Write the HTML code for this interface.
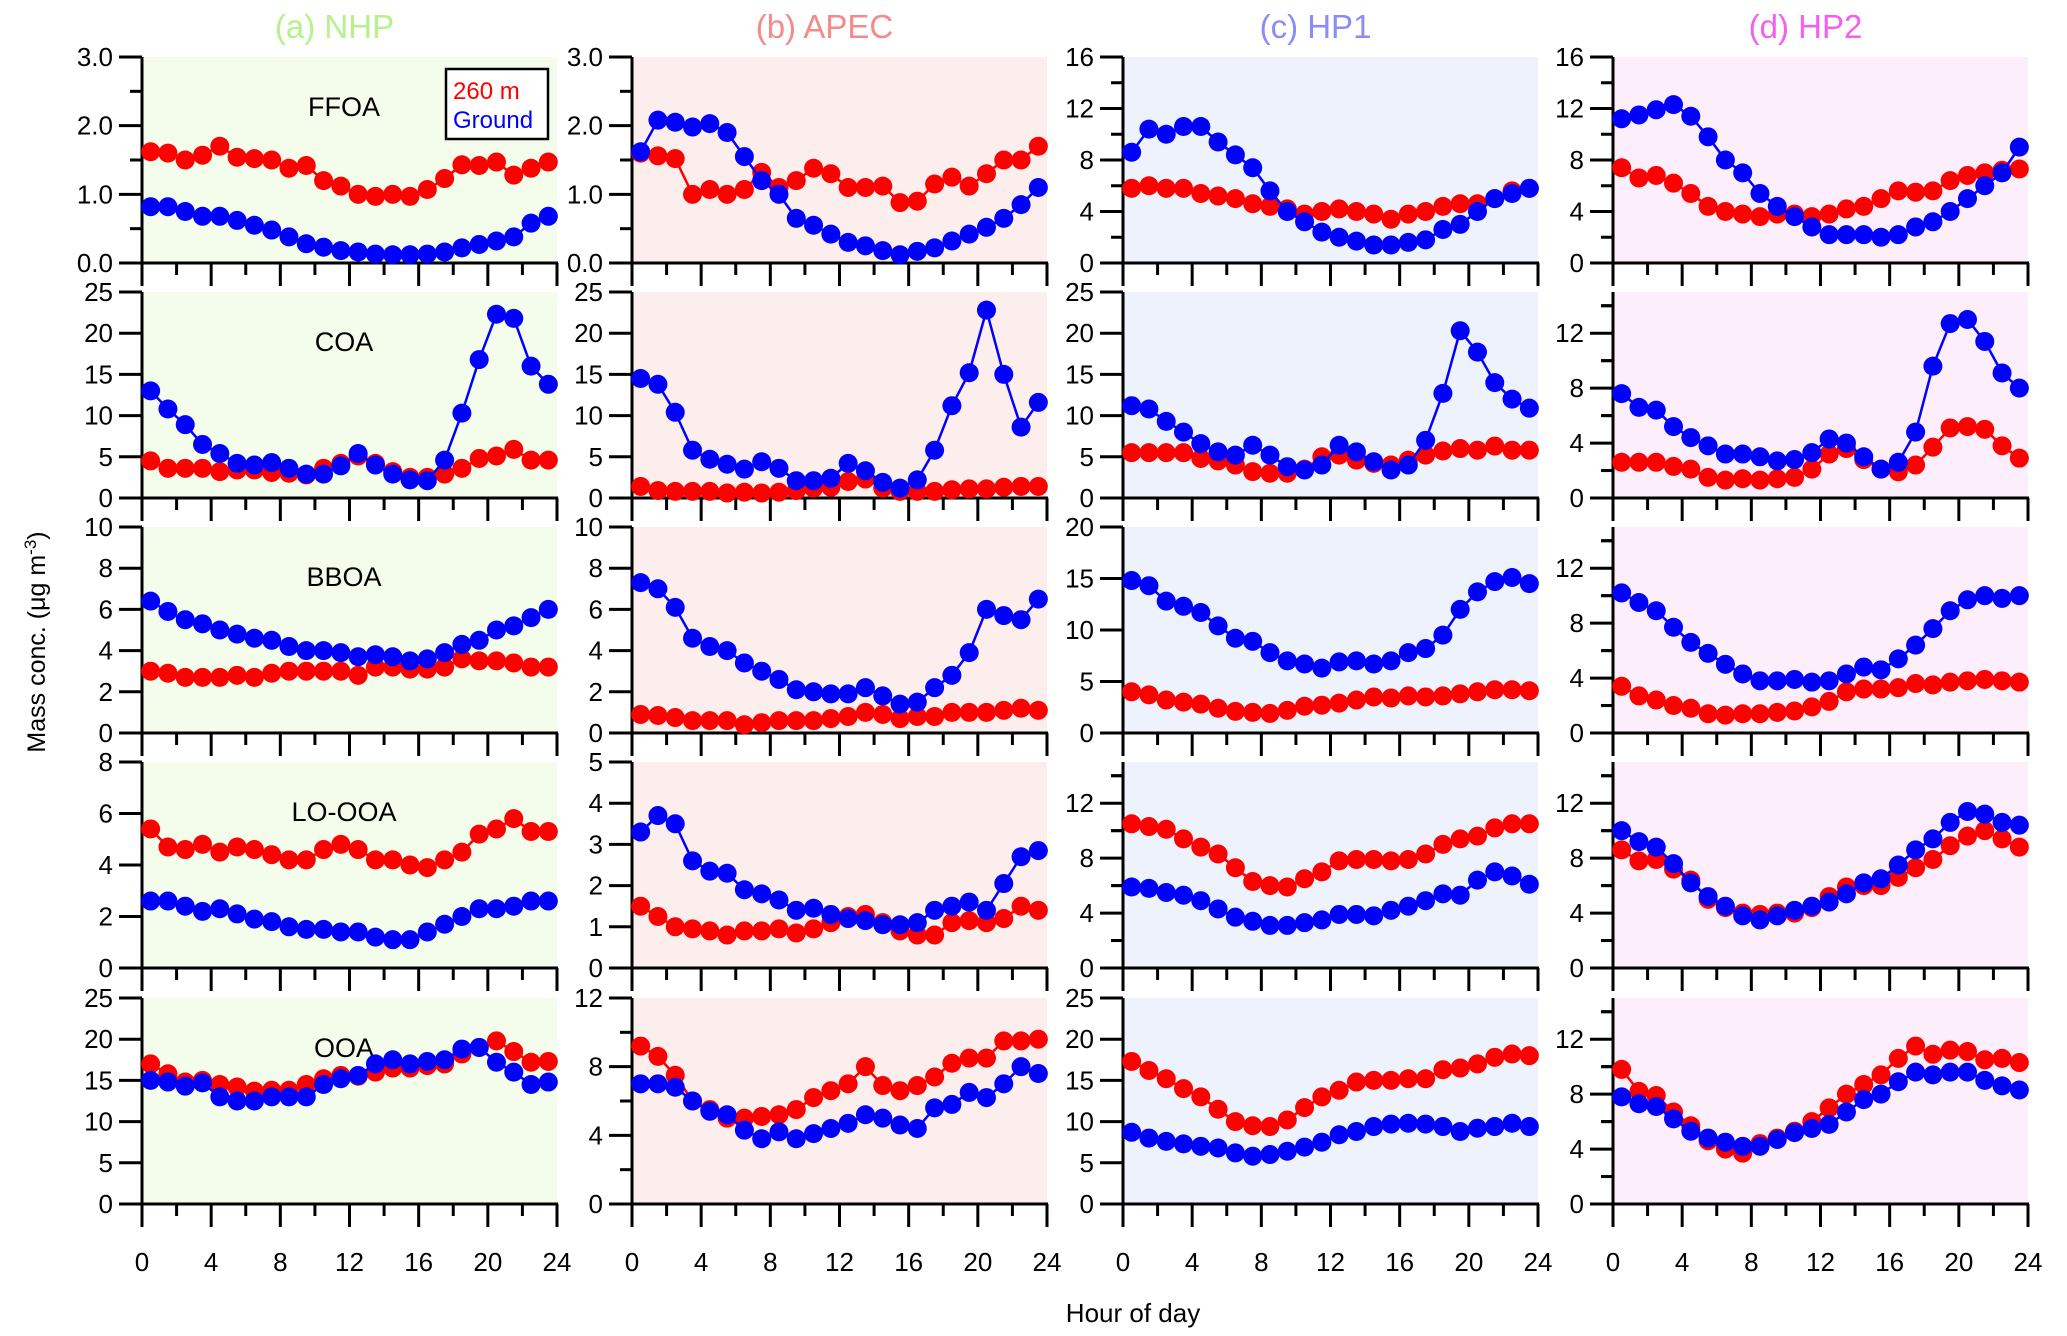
<!DOCTYPE html>
<html><head><meta charset="utf-8"><style>
html,body{margin:0;padding:0;background:#fff;}
svg{display:block;font-family:"Liberation Sans",Arial,sans-serif;}
</style></head><body>
<svg id="chart" width="2067" height="1336" viewBox="0 0 2067 1336" xmlns="http://www.w3.org/2000/svg"></svg>
<script>
const hours = [0.5,1.5,2.5,3.5,4.5,5.5,6.5,7.5,8.5,9.5,10.5,11.5,12.5,13.5,14.5,15.5,16.5,17.5,18.5,19.5,20.5,21.5,22.5,23.5];
const xTicks = [0,4,8,12,16,20,24];
const sites = ["(a) NHP","(b) APEC","(c) HP1","(d) HP2"];
const siteColors = ["#b5f28c","#f58a8a","#8c8cf5","#f55ff0"];
const bgColors = ["#f4fdeb","#fdeeee","#eef2fd","#fdeefb"];
const factors = ["FFOA","COA","BBOA","LO-OOA","OOA"];

// (a) NHP
const nhpFfoa260 = [1.62,1.6,1.5,1.57,1.7,1.54,1.52,1.5,1.38,1.42,1.2,1.12,1.0,0.97,1.0,0.97,1.07,1.23,1.43,1.42,1.47,1.28,1.38,1.47];
const nhpFfoaGround = [0.82,0.82,0.75,0.68,0.68,0.62,0.55,0.48,0.38,0.28,0.23,0.18,0.16,0.13,0.12,0.12,0.13,0.16,0.22,0.27,0.32,0.38,0.58,0.68];
const nhpCoa260 = [4.5,3.6,3.6,3.6,3.2,3.4,3.4,3.1,3.0,2.8,3.6,4.2,5.1,4.2,3.2,2.5,2.5,2.9,3.6,4.8,5.1,5.9,4.6,4.6];
const nhpCoaGround = [13,10.8,8.9,6.5,5.4,4.2,4.0,4.3,3.6,2.9,2.9,3.9,5.4,4.0,2.9,2.2,2.1,4.6,10.3,16.8,22.3,21.8,16.0,13.8];
const nhpBboa260 = [3.0,2.9,2.7,2.7,2.7,2.8,2.7,2.9,3.0,3.0,3.0,3.0,2.8,3.2,3.2,3.1,3.1,3.2,3.6,3.5,3.5,3.4,3.2,3.2];
const nhpBboaGround = [6.4,5.9,5.5,5.3,5.0,4.8,4.6,4.5,4.2,4.0,4.0,3.9,3.7,3.8,3.7,3.5,3.6,3.9,4.3,4.5,5.0,5.2,5.6,6.0];
const nhpLoooa260 = [5.4,4.7,4.6,4.8,4.5,4.7,4.6,4.4,4.2,4.2,4.6,4.8,4.6,4.2,4.2,4.0,3.9,4.2,4.5,5.2,5.4,5.8,5.3,5.3];
const nhpLoooaGround = [2.6,2.6,2.4,2.2,2.3,2.1,1.9,1.8,1.6,1.5,1.5,1.4,1.4,1.2,1.1,1.1,1.4,1.7,2.0,2.3,2.3,2.4,2.6,2.6];
const nhpOoa260 = [17,15.8,14.8,15,14.5,14.2,13.7,13.8,13.8,14.5,15.2,15.6,15.5,16,16.5,16.5,16.8,17,18.2,19,19.8,18.5,17.2,17.3];
const nhpOoaGround = [15,14.8,14.3,14.7,13,12.5,12.5,13,13,13,14.5,15.2,15.6,17,17.5,17,17.3,17.5,18.8,19,17.2,16,14.5,14.8];
// (b) APEC
const apecFfoa260 = [1.6,1.56,1.52,1.0,1.07,1.0,1.07,1.32,1.1,1.2,1.38,1.3,1.1,1.1,1.12,0.88,0.9,1.15,1.25,1.12,1.3,1.5,1.5,1.7];
const apecFfoaGround = [1.62,2.08,2.05,1.98,2.03,1.9,1.55,1.2,1.0,0.65,0.55,0.42,0.3,0.25,0.18,0.12,0.17,0.22,0.32,0.42,0.52,0.65,0.85,1.1];
const apecCoa260 = [1.4,0.9,0.8,0.8,0.8,0.6,0.7,0.6,0.7,0.9,1.2,1.3,2.0,2.3,1.2,0.8,0.8,0.8,1.0,1.1,1.1,1.3,1.4,1.4];
const apecCoaGround = [14.5,13.8,10.4,5.8,4.7,4.1,3.5,4.4,3.6,2.1,2.1,2.4,4.2,3.3,1.9,1.2,2.2,5.8,11.2,15.2,22.8,15.0,8.6,11.6];
const apecBboa260 = [0.9,0.85,0.75,0.6,0.6,0.6,0.4,0.5,0.6,0.6,0.6,0.7,0.8,1.0,0.9,0.7,0.8,0.8,1.0,1.0,1.0,1.1,1.2,1.1];
const apecBboaGround = [7.3,7.0,6.1,4.6,4.2,4.0,3.4,3.0,2.6,2.1,2.0,1.9,1.9,2.2,1.8,1.4,1.5,2.2,2.8,3.9,6.0,5.7,5.5,6.5];
const apecLoooa260 = [1.5,1.25,1.0,0.95,0.9,0.8,0.9,0.9,0.95,0.85,0.95,1.1,1.25,1.3,1.1,0.9,0.8,0.8,1.1,1.15,1.1,1.2,1.5,1.4];
const apecLoooaGround = [3.3,3.7,3.5,2.6,2.35,2.3,1.9,1.8,1.65,1.4,1.45,1.3,1.2,1.15,1.05,1.05,1.1,1.4,1.5,1.6,1.4,2.05,2.7,2.85];
const apecOoa260 = [9.2,8.6,7.5,6.0,5.5,5.0,5.0,5.1,5.2,5.5,6.2,6.6,7.0,8.0,6.9,6.6,6.9,7.4,8.2,8.5,8.5,9.5,9.5,9.6];
const apecOoaGround = [7.0,7.0,6.8,6.0,5.4,5.2,4.3,3.8,4.2,3.8,4.1,4.4,4.7,5.2,5.0,4.6,4.4,5.6,5.8,6.5,6.2,7.0,8.0,7.6];
// (c) HP1
const hp1Ffoa260 = [5.8,6.0,5.8,5.8,5.4,5.2,5.0,4.6,4.4,4.2,3.8,4.0,4.2,4.0,3.8,3.4,3.8,4.0,4.4,4.6,4.6,5.0,5.6,5.8];
const hp1FfoaGround = [8.6,10.4,10.0,10.6,10.6,9.4,8.4,7.4,5.6,4.0,3.2,2.4,2.0,1.7,1.4,1.4,1.6,1.8,2.6,3.0,4.0,5.0,5.4,5.8];
const hp1Coa260 = [5.5,5.5,5.5,5.5,4.8,4.5,4.0,3.2,3.0,3.0,3.5,5.0,5.2,4.6,4.2,4.0,4.6,5.2,5.7,6.0,5.8,6.3,5.8,5.8];
const hp1CoaGround = [11.2,10.8,9.3,8.0,6.6,5.6,5.2,6.4,5.2,3.8,3.4,4.0,6.4,5.6,4.4,3.4,4.0,7.0,12.7,20.3,17.7,14.0,12.0,10.9];
const hp1Bboa260 = [4.0,3.7,3.2,3.0,2.8,2.4,2.1,2.0,1.9,2.2,2.6,2.7,2.9,3.2,3.5,3.4,3.6,3.5,3.6,3.8,4.0,4.2,4.2,4.1];
const hp1BboaGround = [14.8,14.3,12.8,12.3,11.7,10.4,9.2,8.9,7.8,7.0,6.7,6.3,6.9,7.0,6.7,7.0,7.8,8.2,9.5,12.0,13.7,14.7,15.1,14.5];
const hp1Loooa260 = [10.5,10.3,10.1,9.4,8.8,8.3,7.3,6.3,6.0,5.9,6.5,7.0,7.8,7.9,7.9,7.8,7.9,8.3,9.0,9.4,9.6,10.2,10.5,10.5];
const hp1LoooaGround = [5.9,5.8,5.5,5.3,4.9,4.3,3.7,3.4,3.1,3.1,3.3,3.5,3.9,3.9,3.8,4.2,4.5,4.9,5.4,5.3,6.4,7.0,6.7,6.1];
const hp1Ooa260 = [17.3,16.2,15.2,14.0,13.0,11.5,10.0,9.5,9.4,10.2,11.7,13.0,13.8,14.8,15.0,15.0,15.2,15.2,16.3,16.5,17.0,17.8,18.2,18.0];
const hp1OoaGround = [8.7,8.0,7.6,7.3,7.0,6.8,6.2,5.8,6.0,6.4,6.9,7.5,8.4,8.8,9.4,9.7,9.8,9.7,9.4,8.8,9.2,9.4,9.8,9.4];
// (d) HP2
const hp2Ffoa260 = [7.4,6.6,6.8,6.2,5.4,4.4,4.0,3.8,3.6,3.8,3.8,3.6,3.8,4.2,4.4,5.0,5.6,5.5,5.6,6.4,6.8,7.0,7.2,7.3];
const hp2FfoaGround = [11.2,11.5,11.9,12.3,11.4,9.8,8.0,7.0,5.4,4.4,3.6,2.8,2.2,2.2,2.2,2.0,2.2,2.8,3.2,4.0,5.0,6.0,7.0,9.0];
const hp2Coa260 = [2.6,2.6,2.6,2.3,2.1,1.5,1.3,1.4,1.3,1.4,1.5,2.1,3.2,3.6,2.8,2.1,1.9,2.4,3.7,5.1,5.2,5.0,3.8,2.9];
const hp2CoaGround = [7.6,6.6,6.4,5.2,4.4,3.8,3.2,3.2,3.0,2.7,2.8,3.3,4.3,4.0,3.0,2.1,2.6,4.8,9.6,12.7,13.0,11.4,9.1,8.0];
const hp2Bboa260 = [3.4,2.7,2.4,2.0,1.8,1.4,1.3,1.4,1.4,1.5,1.6,1.9,2.3,3.0,3.2,3.2,3.3,3.6,3.5,3.7,3.8,3.9,3.8,3.7];
const hp2BboaGround = [10.2,9.5,8.9,7.7,6.6,5.8,5.0,4.3,3.8,3.8,3.9,3.7,3.8,4.3,4.8,4.6,5.4,6.4,7.6,8.9,9.7,10.0,9.8,10.0];
const hp2Loooa260 = [8.6,7.8,7.9,7.2,6.4,5.0,4.4,4.0,3.9,4.0,4.0,4.4,5.2,5.9,6.0,6.0,6.6,7.3,7.9,8.9,9.6,10.0,9.4,8.8];
const hp2LoooaGround = [10.0,9.2,8.8,7.6,6.2,5.2,4.5,3.8,3.5,3.8,4.2,4.5,4.8,5.4,6.2,6.5,7.5,8.6,9.4,10.6,11.4,11.2,10.6,10.4];
const hp2Ooa260 = [9.8,8.2,7.9,6.7,5.7,4.6,4.0,3.7,4.4,4.8,5.3,6.0,7.0,8.0,8.7,9.4,10.6,11.5,10.9,11.2,11.1,10.5,10.6,10.3];
const hp2OoaGround = [7.8,7.3,7.1,6.2,5.3,4.8,4.5,4.2,4.2,4.7,5.2,5.5,5.8,6.7,7.6,8.0,8.9,9.6,9.4,9.6,9.6,9.0,8.6,8.3];

const series260 = [
 [nhpFfoa260,nhpCoa260,nhpBboa260,nhpLoooa260,nhpOoa260],
 [apecFfoa260,apecCoa260,apecBboa260,apecLoooa260,apecOoa260],
 [hp1Ffoa260,hp1Coa260,hp1Bboa260,hp1Loooa260,hp1Ooa260],
 [hp2Ffoa260,hp2Coa260,hp2Bboa260,hp2Loooa260,hp2Ooa260]];
const seriesGround = [
 [nhpFfoaGround,nhpCoaGround,nhpBboaGround,nhpLoooaGround,nhpOoaGround],
 [apecFfoaGround,apecCoaGround,apecBboaGround,apecLoooaGround,apecOoaGround],
 [hp1FfoaGround,hp1CoaGround,hp1BboaGround,hp1LoooaGround,hp1OoaGround],
 [hp2FfoaGround,hp2CoaGround,hp2BboaGround,hp2LoooaGround,hp2OoaGround]];
// y-axis: [max, label step, minor step, decimals]
const yAxes = [
 [[3,1,0.5,1],[25,5,0,0],[10,2,0,0],[8,2,0,0],[25,5,0,0]],
 [[3,1,0.5,1],[25,5,0,0],[10,2,0,0],[5,1,0,0],[12,4,2,0]],
 [[16,4,2,0],[25,5,0,0],[20,5,0,0],[15,4,2,0],[25,5,0,0]],
 [[16,4,2,0],[15,4,2,0],[15,4,2,0],[15,4,2,0],[15,4,2,0]]];

const NS="http://www.w3.org/2000/svg";
const svg=document.getElementById('chart');
function mk(tag,attrs,parent,text){const e=document.createElementNS(NS,tag);for(const k in attrs)e.setAttribute(k,attrs[k]);if(text!==undefined)e.textContent=text;(parent||svg).appendChild(e);return e;}
const colL=[142,632,1123,1613], PW=415, rowT=[57,292,527,762,998], PH=206;

for(let c=0;c<4;c++){
  const t=mk('text',{x:colL[c]+PW/2-15,y:38,'font-size':33,fill:siteColors[c],'text-anchor':'middle'},svg,sites[c]);
  
  
  for(let r=0;r<5;r++){
    const g=mk('g',{});
    
    
    const L=colL[c],T=rowT[r],B=T+PH,R=L+PW;
    const [ymax,ystep,yminor,dec]=yAxes[c][r];
    const xs=h=>L+h/24*PW, ys=v=>B-v/ymax*PH;
    const bg=mk('rect',{x:L,y:T,width:PW,height:PH,fill:bgColors[c]},g);
    
    
    for(let v=0;v<=ymax+1e-9;v+=ystep){
      mk('line',{x1:L-23,x2:L,y1:ys(v),y2:ys(v),stroke:'#000','stroke-width':3},g);
      const lb=mk('text',{x:L-29,y:ys(v)+9,'font-size':26,'text-anchor':'end'},g,v.toFixed(dec));
      
      
    }
    if(yminor){for(let v=yminor;v<ymax-1e-9;v+=ystep){ if(Math.abs(v/ystep-Math.round(v/ystep))>1e-6) mk('line',{x1:L-12,x2:L,y1:ys(v),y2:ys(v),stroke:'#000','stroke-width':3},g);}
      if(c>=2&&ymax%ystep!==0){for(let v=ystep/2;v<ymax;v+=ystep) mk('line',{x1:L-12,x2:L,y1:ys(v),y2:ys(v),stroke:'#000','stroke-width':3},g);}
    }
    for(let h=0;h<=24;h+=2){
      const long=h%4===0;
      mk('line',{x1:xs(h),x2:xs(h),y1:B,y2:B+(long?23:12),stroke:'#000','stroke-width':3},g);
    }
    if(r===4){for(const h of xTicks){const lb=mk('text',{x:xs(h),y:1271,'font-size':26,'text-anchor':'middle'},g,String(h));
      
      }}
    mk('line',{x1:L,x2:L,y1:T,y2:B+2,stroke:'#000','stroke-width':3},g);
    mk('line',{x1:L-1,x2:R+1,y1:B,y2:B,stroke:'#000','stroke-width':3},g);
    if(c===0){const fl=mk('text',{x:L+202,y:T+59,'font-size':27,'text-anchor':'middle'},g,factors[r]);
      
      }
    [[series260[c][r],'#ff0000','260m'],[seriesGround[c][r],'#0000ff','ground']].forEach(([arr,col,nm])=>{
      const sg=mk('g',{},g);
      
      
      mk('polyline',{points:arr.map((v,i)=>xs(hours[i])+','+ys(v)).join(' '),fill:'none',stroke:col,'stroke-width':2.5},sg);
      arr.forEach((v,i)=>{const p=mk('circle',{cx:xs(hours[i]),cy:ys(v),r:9.5,fill:col},sg);
        
        });
    });
  }
}
const lg=mk('g',{});


mk('rect',{x:446,y:69,width:102,height:70,fill:'#fff',stroke:'#000','stroke-width':2.5},lg);
mk('text',{x:453,y:99,'font-size':24,fill:'#ff0000'},lg,'260 m');
mk('text',{x:453,y:128,'font-size':24,fill:'#0000ff'},lg,'Ground');
const yt=mk('text',{x:0,y:0,'font-size':25,'text-anchor':'middle',transform:'translate(45,642) rotate(-90)'});


yt.innerHTML='Mass conc. (μg m<tspan dy="-9" font-size="17">-3</tspan><tspan dy="9">)</tspan>';
const xt=mk('text',{x:1133,y:1322,'font-size':26,'text-anchor':'middle'},svg,'Hour of day');


</script>
</body></html>
